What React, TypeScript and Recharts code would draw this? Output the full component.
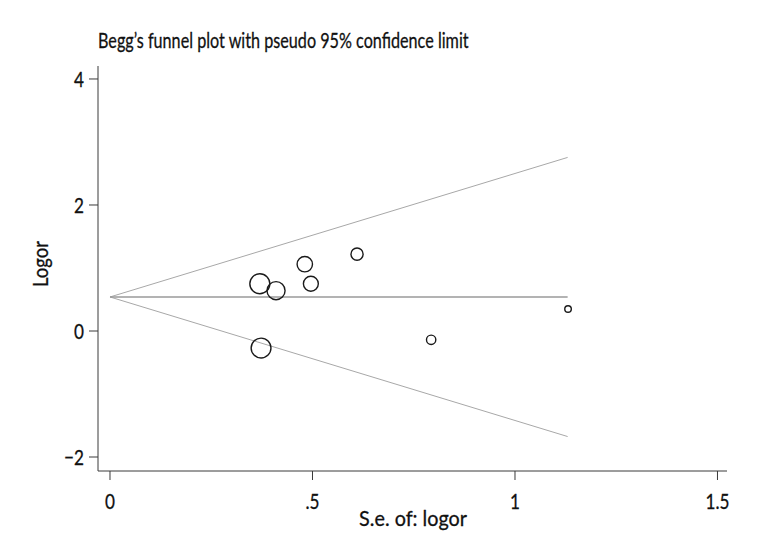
import { ScatterChart, Scatter, XAxis, YAxis, ReferenceLine } from 'recharts';

// study estimates: standard error and log odds ratio
const seValues = [0.37, 0.41, 0.373, 0.481, 0.496, 0.61, 0.793, 1.131];
const logorValues = [0.75, 0.64, -0.27, 1.06, 0.75, 1.22, -0.14, 0.35];

const pooled = 0.54;
const seMax = 1.13;
const upperLimit = 2.755;
const lowerLimit = -1.675;

const xTicks = [0, 0.5, 1, 1.5];
const xTickLabels = ['0', '.5', '1', '1.5'];
const yTicks = [-2, 0, 2, 4];
const yTickLabels = ['\u22122', '0', '2', '4'];

const studies = seValues.map((se, i) => ({ se, logor: logorValues[i] }));

const font = 'Lato, "DejaVu Sans", sans-serif';
const axisColor = '#3a3a3a';
const limitColor = '#a8a8a8';

// condensed text: the reference uses a narrow typeface
const CText = ({ x, y, size = 22, sx = 0.78, anchor = 'start', rotate = 0, children }: any) => (
  <text
    transform={`translate(${x},${y}) rotate(${rotate}) scale(${sx},1)`}
    textAnchor={anchor}
    fontFamily={font}
    fontSize={size}
    fill="#111"
    stroke="#111"
    strokeWidth={0.3}
  >
    {children}
  </text>
);

const XTick = (props: any) => {
  const { x, y, payload } = props;
  return (
    <CText x={x} y={y + 27} anchor="middle">
      {xTickLabels[xTicks.indexOf(payload.value)]}
    </CText>
  );
};

const YTick = (props: any) => {
  const { x, y, payload } = props;
  return (
    <CText x={x - 3} y={y + 8} anchor="end">
      {yTickLabels[yTicks.indexOf(payload.value)]}
    </CText>
  );
};

const StudyMarker = (props: any) => {
  const { cx, cy, payload } = props;
  // marker area proportional to the weight 1/se^2
  const r = 3.7 / payload.se;
  return <circle cx={cx} cy={cy} r={r} fill="none" stroke="#1a1a1a" strokeWidth={1.4} />;
};

export default function App() {
  return (
    <div style={{ position: 'absolute', left: 0, top: 0, width: 768, height: 552, background: '#fff' }}>
      <ScatterChart width={768} height={552} margin={{ top: 66, right: 41, left: 0, bottom: 0 }}>
        <XAxis
          type="number"
          dataKey="se"
          domain={[-0.0296, 1.5235]}
          ticks={xTicks}
          allowDataOverflow
          height={81}
          tickSize={9}
          stroke={axisColor}
          tick={<XTick />}
        />
        <YAxis
          type="number"
          dataKey="logor"
          domain={[-2.222, 4.206]}
          ticks={yTicks}
          allowDataOverflow
          width={98}
          tickSize={9}
          stroke={axisColor}
          tick={<YTick />}
        />
        <ReferenceLine segment={[{ x: 0, y: pooled }, { x: seMax, y: upperLimit }]} stroke={limitColor} strokeWidth={1} />
        <ReferenceLine segment={[{ x: 0, y: pooled }, { x: seMax, y: lowerLimit }]} stroke={limitColor} strokeWidth={1} />
        <ReferenceLine segment={[{ x: 0, y: pooled }, { x: seMax, y: pooled }]} stroke="#9a9a9a" strokeWidth={1.6} />
        <Scatter data={studies} shape={StudyMarker} isAnimationActive={false} />
      </ScatterChart>
      <svg width={768} height={552} style={{ position: 'absolute', left: 0, top: 0, pointerEvents: 'none' }}>
        <CText x={98} y={48} sx={0.736}>Begg’s funnel plot with pseudo 95% confidence limit</CText>
        <CText x={413} y={526} sx={0.9} anchor="middle">S.e. of: logor</CText>
        <CText x={48} y={264} sx={0.84} anchor="middle" rotate={-90}>Logor</CText>
      </svg>
    </div>
  );
}
